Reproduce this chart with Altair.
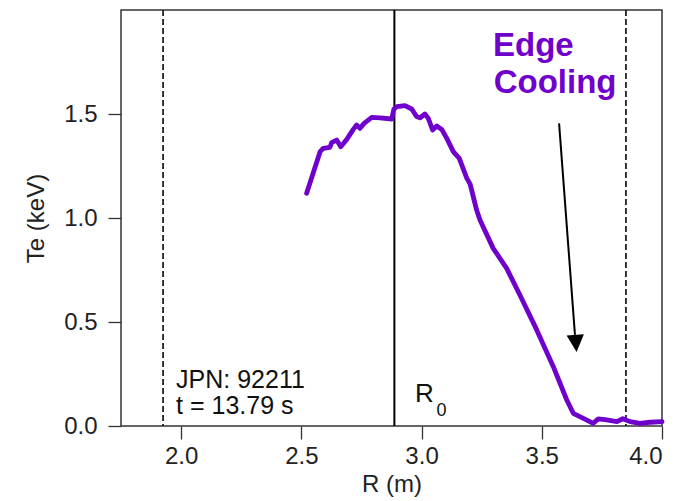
import altair as alt
import pandas as pd

# ---- data ----
R_M = [2.522, 2.578, 2.591, 2.619, 2.626, 2.647, 2.664, 2.689, 2.716, 2.730,
       2.744, 2.761, 2.793, 2.827, 2.876, 2.885, 2.897, 2.931, 2.959, 2.980,
       2.994, 3.014, 3.028, 3.046, 3.063, 3.084, 3.105, 3.132, 3.157, 3.188,
       3.202, 3.229, 3.243, 3.298, 3.354, 3.409, 3.479, 3.548, 3.604, 3.631,
       3.673, 3.714, 3.735, 3.770, 3.812, 3.837, 3.867, 3.909, 3.950, 4.000]
TE_KEV = [1.119, 1.319, 1.335, 1.340, 1.362, 1.375, 1.343, 1.378, 1.426, 1.447,
          1.431, 1.455, 1.484, 1.481, 1.476, 1.524, 1.535, 1.540, 1.524, 1.487,
          1.482, 1.500, 1.479, 1.423, 1.442, 1.426, 1.383, 1.319, 1.287, 1.192,
          1.163, 1.038, 0.990, 0.854, 0.758, 0.630, 0.462, 0.285, 0.125, 0.061,
          0.037, 0.013, 0.034, 0.029, 0.021, 0.035, 0.021, 0.013, 0.018, 0.021]

DASHED_R = [1.925, 3.850]
R0_R = [2.887]

X_TICKS = [2.0, 2.5, 3.0, 3.5, 4.0]
Y_TICKS = [0.0, 0.5, 1.0, 1.5]
X_DOMAIN = [1.75, 4.0]
Y_DOMAIN = [0.0, 2.0]

# annotation texts and anchor positions (data units)
INFO_TEXT = ["JPN: 92211", "t = 13.79 s"]
INFO_R = [1.979, 1.979]
INFO_TE = [0.183, 0.058]

EDGE_TEXT = ["Edge", "Cooling"]
EDGE_R = [3.297, 3.300]
EDGE_TE = [1.779, 1.602]

R0_MAIN = ["R"]
R0_MAIN_POS = [2.973, 0.117]
R0_SUB = ["0"]
R0_SUB_POS = [3.062, 0.050]

ARROW_START = [3.572, 1.455]
ARROW_END = [3.638, 0.438]
ARROW_HEAD = [3.642, 0.397]

PURPLE = "#7000CC"
FONT = "Liberation Sans"

profile = pd.DataFrame({"R": R_M, "Te": TE_KEV})
dashed = pd.DataFrame({"R": DASHED_R})
r0 = pd.DataFrame({"R": R0_R})
info = pd.DataFrame({"R": INFO_R, "Te": INFO_TE, "t": INFO_TEXT})
edge = pd.DataFrame({"R": EDGE_R, "Te": EDGE_TE, "t": EDGE_TEXT})
r0m = pd.DataFrame({"R": [R0_MAIN_POS[0]], "Te": [R0_MAIN_POS[1]], "t": R0_MAIN})
r0s = pd.DataFrame({"R": [R0_SUB_POS[0]], "Te": [R0_SUB_POS[1]], "t": R0_SUB})
arrow = pd.DataFrame({"R": [ARROW_START[0]], "Te": [ARROW_START[1]],
                      "R2": [ARROW_END[0]], "Te2": [ARROW_END[1]]})
head = pd.DataFrame({"R": [ARROW_HEAD[0]], "Te": [ARROW_HEAD[1]]})

xs = alt.Scale(domain=X_DOMAIN, nice=False, zero=False)
ys = alt.Scale(domain=Y_DOMAIN, nice=False, zero=False)

x_axis = alt.Axis(values=X_TICKS, format=".1f", title="R (m)", grid=False,
                  domain=False, tickSize=13, tickColor="#333", tickWidth=1.3,
                  labelFontSize=24, labelFont=FONT, labelColor="#222",
                  labelPadding=5, titleFontSize=24, titleFont=FONT,
                  titleFontWeight="normal", titleColor="#222", titlePadding=4)
y_axis = alt.Axis(values=Y_TICKS, format=".1f", title="Te (keV)", grid=False,
                  domain=False, tickSize=13, tickColor="#333", tickWidth=1.3,
                  labelFontSize=24, labelFont=FONT, labelColor="#222",
                  labelPadding=11, titleFontSize=24, titleFont=FONT,
                  titleFontWeight="normal", titleColor="#222", titlePadding=15)

line = alt.Chart(profile).mark_line(color=PURPLE, strokeWidth=4.8,
                                    strokeJoin="round", strokeCap="round").encode(
    x=alt.X("R:Q", scale=xs, axis=x_axis),
    y=alt.Y("Te:Q", scale=ys, axis=y_axis),
)

dash_rules = alt.Chart(dashed).mark_rule(color="#222", strokeWidth=1.8,
                                         strokeDash=[6, 3]).encode(x=alt.X("R:Q", scale=xs))
r0_rule = alt.Chart(r0).mark_rule(color="#000", strokeWidth=2).encode(x=alt.X("R:Q", scale=xs))

info_text = alt.Chart(info).mark_text(align="left", baseline="alphabetic",
                                      fontSize=25, font=FONT, color="#111").encode(
    x=alt.X("R:Q", scale=xs), y=alt.Y("Te:Q", scale=ys), text="t:N")

edge_text = alt.Chart(edge).mark_text(align="left", baseline="alphabetic",
                                      fontSize=33, font=FONT, fontWeight="bold",
                                      color=PURPLE).encode(
    x=alt.X("R:Q", scale=xs), y=alt.Y("Te:Q", scale=ys), text="t:N")

r0_main = alt.Chart(r0m).mark_text(align="left", baseline="alphabetic",
                                   fontSize=26, font=FONT, color="#111").encode(
    x=alt.X("R:Q", scale=xs), y=alt.Y("Te:Q", scale=ys), text="t:N")
r0_sub = alt.Chart(r0s).mark_text(align="left", baseline="alphabetic",
                                  fontSize=18, font=FONT, color="#111").encode(
    x=alt.X("R:Q", scale=xs), y=alt.Y("Te:Q", scale=ys), text="t:N")

arrow_line = alt.Chart(arrow).mark_rule(color="#000", strokeWidth=2).encode(
    x=alt.X("R:Q", scale=xs), y=alt.Y("Te:Q", scale=ys),
    x2="R2:Q", y2="Te2:Q")
arrow_head = alt.Chart(head).mark_point(shape="M-1,-1L1,-1L0,1Z", filled=True,
                                        color="#000", opacity=1, size=300,
                                        angle=355.6).encode(
    x=alt.X("R:Q", scale=xs), y=alt.Y("Te:Q", scale=ys))

chart = alt.layer(
    dash_rules, r0_rule, line, info_text, edge_text, r0_main, r0_sub,
    arrow_line, arrow_head,
).properties(
    width=541, height=416,
    autosize=alt.AutoSizeParams(type="none"),
    padding={"left": 121, "top": 10, "right": 38, "bottom": 75},
    background="white",
).configure_view(
    stroke="#333", strokeWidth=1.5
)

chart.save("out.html", embed_options={"renderer": "svg", "actions": False})
